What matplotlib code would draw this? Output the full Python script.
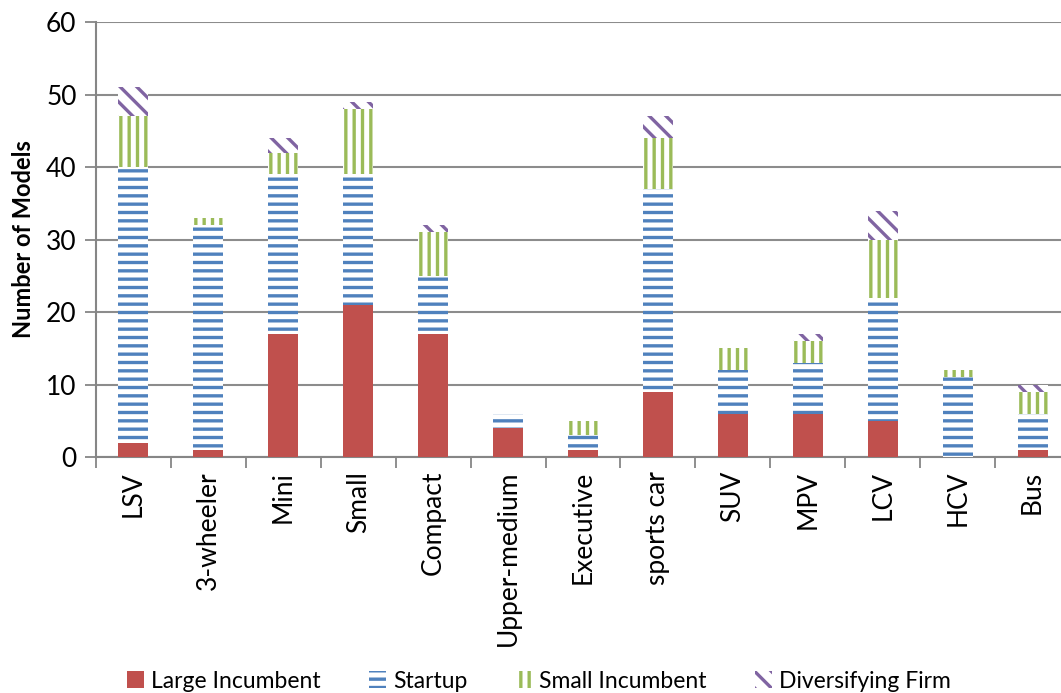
import numpy as np
import matplotlib.pyplot as plt

plt.rcParams.update({
    "font.family": ["Lato", "DejaVu Sans"],
    "hatch.linewidth": 2.4,
})

categories = ["LSV", "3-wheeler", "Mini", "Small", "Compact", "Upper-medium",
              "Executive", "sports car", "SUV", "MPV", "LCV", "HCV", "Bus"]

large_incumbent = [2, 1, 17, 21, 17, 4, 1, 9, 6, 6, 5, 0, 1]
startup = [38, 31, 22, 18, 8, 2, 2, 28, 6, 7, 17, 11, 5]
small_incumbent = [7, 1, 3, 9, 6, 0, 2, 7, 3, 3, 8, 1, 3]
diversifying = [4, 0, 2, 1, 1, 0, 0, 3, 0, 1, 4, 0, 1]

series = [
    ("Large Incumbent", large_incumbent, "#C0504D", "#C0504D", None),
    ("Startup", startup, "white", "#4F81BD", "--"),
    ("Small Incumbent", small_incumbent, "white", "#9BBB59", "||"),
    ("Diversifying Firm", diversifying, "white", "#8064A2", "\\\\"),
]

fig = plt.figure(figsize=(10.61, 6.93), dpi=100)
ax = fig.add_axes([0.0905, 0.3405, 0.918, 0.6277])

x = np.arange(len(categories))
bottom = np.zeros(len(categories))
handles = []
for label, vals, face, edge, hatch in series:
    vals = np.array(vals, dtype=float)
    bars = ax.bar(x, vals, width=0.4, bottom=bottom, color=face,
                  edgecolor=edge, hatch=hatch, linewidth=0, label=label,
                  zorder=3)
    handles.append(bars)
    bottom += vals

ax.set_xlim(-0.5, len(categories) - 0.5)
ax.set_ylim(0, 60)
ax.set_yticks(np.arange(0, 61, 10))
ax.tick_params(axis="y", labelsize=19, length=8, width=1.3, color="#868686",
               direction="out", pad=6)

# category labels at centres, tick marks at boundaries
ax.set_xticks(x)
ax.set_xticklabels(categories, rotation=90, fontsize=19)
ax.tick_params(axis="x", which="major", length=0, pad=10)
ax.set_xticks(np.arange(-0.5, len(categories), 1), minor=True)
ax.tick_params(axis="x", which="minor", length=8, width=1.3, color="#868686",
               direction="out")

ax.grid(axis="y", color="#8C8C8C", linewidth=1.5, zorder=0)
ax.set_axisbelow(True)
for side in ["top", "right"]:
    ax.spines[side].set_visible(False)
for side in ["left", "bottom"]:
    ax.spines[side].set_color("#868686")
    ax.spines[side].set_linewidth(1.5)

ax.set_ylabel("Number of Models", fontsize=17, fontweight="bold", labelpad=8)

fig.legend(handles=handles, loc="lower center", ncol=4, frameon=False,
           fontsize=16.5, bbox_to_anchor=(0.508, -0.028), handlelength=0.75,
           handleheight=0.75, handletextpad=0.3, columnspacing=2.1)

fig.savefig("out.png", dpi=100)
